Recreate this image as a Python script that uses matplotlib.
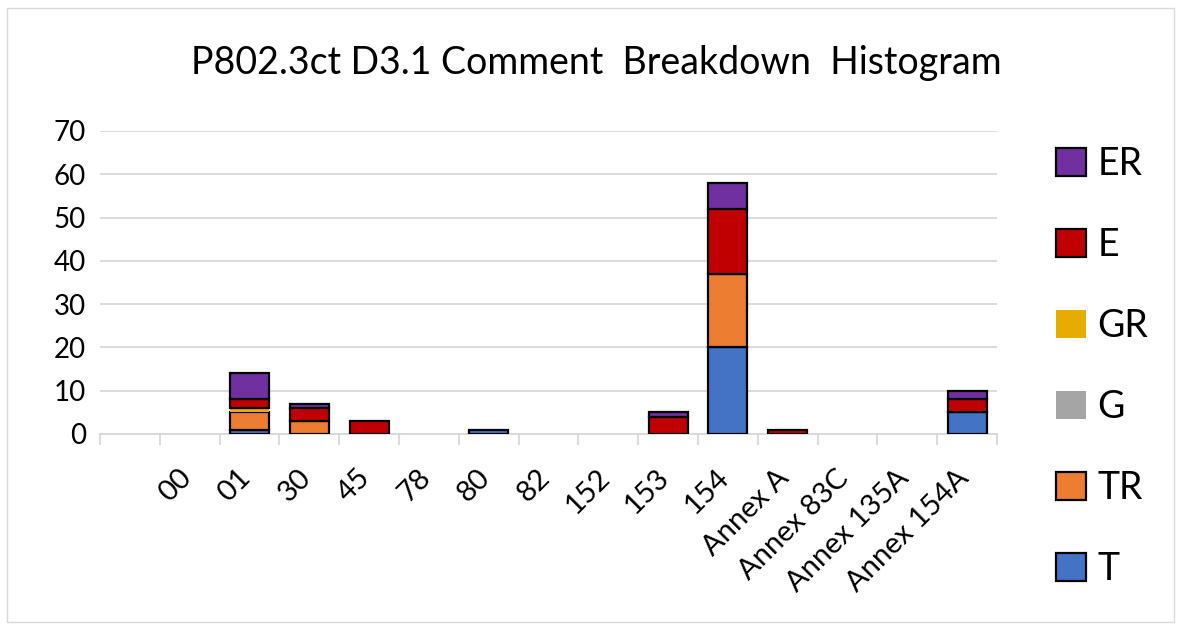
import numpy as np
import matplotlib
matplotlib.use("Agg")
from matplotlib import pyplot as plt
from matplotlib.patches import Rectangle
from matplotlib.transforms import ScaledTranslation

plt.rcParams['font.family'] = ['Lato', 'DejaVu Sans']

cats = ["", "00", "01", "30", "45", "78", "80", "82", "152", "153", "154",
        "Annex A", "Annex 83C", "Annex 135A", "Annex 154A"]
T  = [0, 0, 1, 0, 0, 0, 1, 0, 0, 0, 20, 0, 0, 0, 5]
TR = [0, 0, 4, 3, 0, 0, 0, 0, 0, 0, 17, 0, 0, 0, 0]
G  = [0, 0, 0, 0, 0, 0, 0, 0, 0, 0, 0, 0, 0, 0, 0]
GR = [0, 0, 1, 0, 0, 0, 0, 0, 0, 0, 0, 0, 0, 0, 0]
E  = [0, 0, 2, 3, 3, 0, 0, 0, 0, 4, 15, 1, 0, 0, 3]
ER = [0, 0, 6, 1, 0, 0, 0, 0, 0, 1, 6, 0, 0, 0, 2]

series = [("T", T, "#4472C4", "black"),
          ("TR", TR, "#ED7D31", "black"),
          ("G", G, "#A5A5A5", "none"),
          ("GR", GR, "#E6AC00", "none"),
          ("E", E, "#C00000", "black"),
          ("ER", ER, "#7030A0", "black")]

fig = plt.figure(figsize=(11.81, 6.30), dpi=100)
ax = fig.add_axes([100/1181, 1-434/630, 897/1181, 303/630])

x = np.arange(len(cats))
bottom = np.zeros(len(cats))
handles = {}
for name, vals, col, ec in series:
    vals = np.array(vals, dtype=float)
    nz = vals > 0
    # only draw the non-empty segments so zero bars leave no outline
    b = ax.bar(x[nz], vals[nz], 0.65, bottom=bottom[nz], color=col, edgecolor=ec,
               linewidth=1.6, label=name, zorder=3)
    if not nz.any():
        b = ax.bar([0], [0], 0.65, color=col, edgecolor=ec, linewidth=1.6,
                   visible=False)
    handles[name] = b
    bottom += vals

ax.set_xlim(-0.5, len(cats) - 0.5)
ax.set_ylim(0, 70)
ax.set_yticks(range(0, 71, 10))
ax.yaxis.grid(True, color="#D9D9D9", linewidth=1.3, zorder=0)
ax.tick_params(axis="y", length=0, labelsize=20, pad=10)
ax.set_xticks(x)
ax.set_xticklabels(cats, rotation=45, ha="right", rotation_mode="anchor", fontsize=21)
ax.tick_params(axis="x", length=0, pad=22)
shift = ScaledTranslation(-12/100, 0, fig.dpi_scale_trans)
for lab in ax.get_xticklabels():
    lab.set_transform(lab.get_transform() + shift)
ax.set_xticks(np.arange(-0.5, len(cats)), minor=True)
ax.tick_params(axis="x", which="minor", length=8, color="#D9D9D9", width=1.3)
for s in ["top", "right", "left"]:
    ax.spines[s].set_visible(False)
ax.spines["bottom"].set_color("#D9D9D9")
ax.spines["bottom"].set_linewidth(1.3)

fig.text(0.505, 0.9, "P802.3ct D3.1 Comment  Breakdown  Histogram",
         ha="center", va="center", fontsize=27)

order = ["ER", "E", "GR", "G", "TR", "T"]
leg = fig.legend([handles[n] for n in order], order, loc="center left",
                 bbox_to_anchor=(0.866, 0.418), frameon=False, fontsize=27,
                 handlelength=0.8, handleheight=0.8, handletextpad=0.3,
                 labelspacing=1.2)
for h in leg.legend_handles:
    h.set_visible(True)

fig.patches.append(Rectangle((0.006, 0.012), 0.988, 0.976, transform=fig.transFigure,
                             fill=False, edgecolor="#D9D9D9", linewidth=1))

fig.savefig("out.png", dpi=100)
